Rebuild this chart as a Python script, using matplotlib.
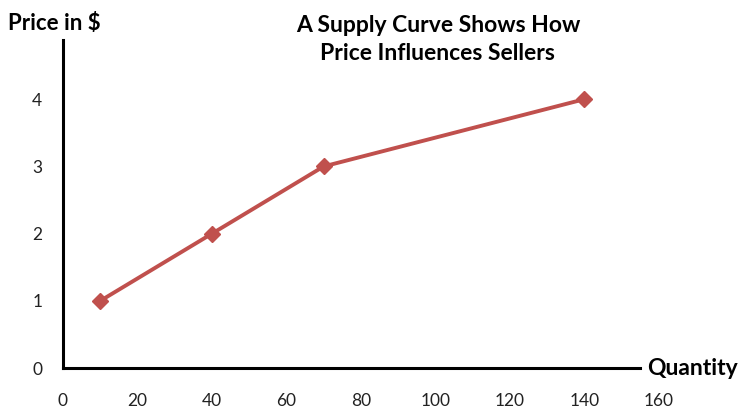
import matplotlib
matplotlib.use('Agg')
import matplotlib.pyplot as plt

# supply curve data
quantity = [10, 40, 70, 140]
price = [1, 2, 3, 4]
x_ticks = [0, 20, 40, 60, 80, 100, 120, 140, 160]
y_ticks = [0, 1, 2, 3, 4]

plt.rcParams['font.family'] = ['Lato', 'DejaVu Sans']

fig = plt.figure(figsize=(7.41, 4.09), dpi=100)
ax = fig.add_axes([0.085, 0.100, 0.804, 0.802])

ax.plot(quantity, price, color='#C0504D', linewidth=2.8, marker='D',
        markersize=8, markerfacecolor='#C0504D', markeredgecolor='#C0504D')

ax.set_xlim(0, 160)
ax.set_ylim(0, 4.88)
ax.set_xticks(x_ticks)
ax.set_yticks(y_ticks)
ax.tick_params(axis='both', length=0, labelsize=12.5, colors='#222222')
ax.tick_params(axis='x', pad=18)
ax.tick_params(axis='y', pad=15)

ax.spines['top'].set_visible(False)
ax.spines['right'].set_visible(False)
ax.spines['left'].set_linewidth(2.2)
ax.spines['bottom'].set_linewidth(2.2)
ax.spines['bottom'].set_bounds(0, 155)

fig.text(0.011, 0.927, 'Price in $', fontsize=16, fontweight='bold', va='baseline', ha='left')
fig.text(0.873, 0.083, 'Quantity', fontsize=16.5, fontweight='bold', va='baseline', ha='left')
fig.text(0.591, 0.922, 'A Supply Curve Shows How', fontsize=16.5, fontweight='bold', va='baseline', ha='center')
fig.text(0.591, 0.853, 'Price Influences Sellers', fontsize=16.5, fontweight='bold', va='baseline', ha='center')

fig.savefig('out.png', dpi=100)
